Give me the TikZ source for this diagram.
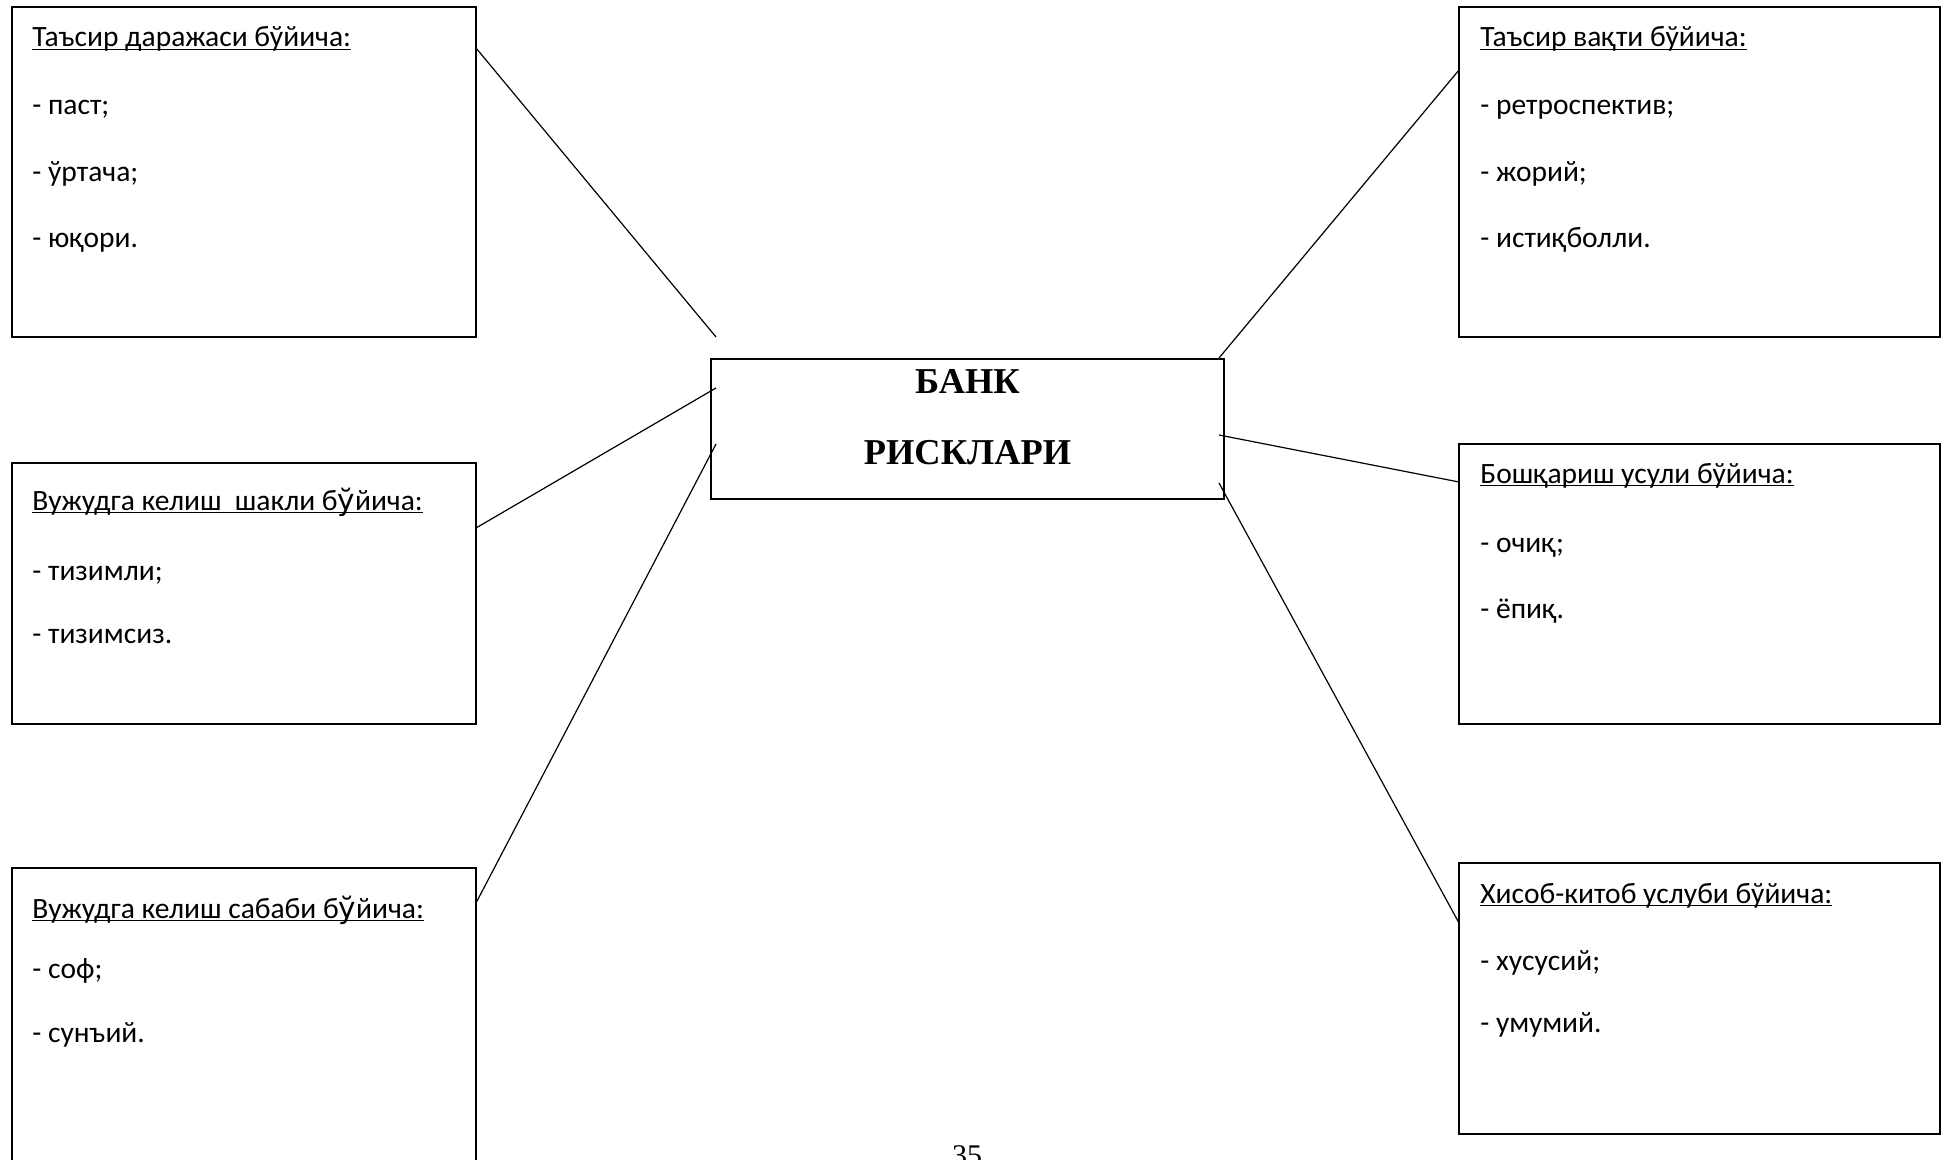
\documentclass[tikz,border=0pt]{standalone}
\usepackage{fontspec}
\setmainfont{Carlito}
\newfontfamily\headfont{Liberation Serif}
\newfontfamily\altglyph{DejaVu Sans}
\usetikzlibrary{calc}
% underline drawn at a fixed depth below the baseline
\newsavebox{\ulnbox}
\newcommand{\uln}[1]{\sbox{\ulnbox}{#1}\rlap{\rule[-1.7pt]{\wd\ulnbox}{0.8pt}}\usebox{\ulnbox}}
\begin{document}
\begin{tikzpicture}[x=0.5pt,y=-0.5pt,
  card/.style={draw, line width=1pt, anchor=north west, inner sep=0pt, outer sep=0pt},
  hub/.style={draw, line width=1.15pt, anchor=north west, inner sep=0pt, outer sep=0pt},
  txt/.style={anchor=base west, inner sep=0pt, font=\fontsize{14.75}{17}\selectfont},
  big/.style={anchor=base, inner sep=0pt, font=\headfont\bfseries\fontsize{18.2}{21}\selectfont},
  link/.style={line width=0.6pt}]
\clip (0,0) rectangle (1948,1160);
\fill[white] (0,0) rectangle (1948,1160);

% category boxes
\node[card, minimum width=232pt, minimum height=165pt] (b1) at (12,7) {};
\node[card, minimum width=232pt, minimum height=130.5pt] (b2) at (12,463) {};
\node[card, minimum width=232pt, minimum height=200pt] (b3) at (12,868) {};
\node[card, minimum width=240.5pt, minimum height=165pt] (b4) at (1459,7) {};
\node[card, minimum width=240.5pt, minimum height=140pt] (b5) at (1459,444) {};
\node[card, minimum width=240.5pt, minimum height=135.5pt] (b6) at (1459,863) {};

% central box
\node[hub, minimum width=256.5pt, minimum height=70pt] (c) at (711,359) {};
\node[big] (c1) at (967.5,393.5) {БАНК};
\node[big] (c2) at (967.5,464) {РИСКЛАРИ};

% texts, left column
\node[txt] (t1) at (32,47) {\uln{Таъсир даражаси бўйича:}};
\node[txt] (t1a) at (32,115) {- паст;};
\node[txt] (t1b) at (32,182) {- ўртача;};
\node[txt] (t1c) at (32,248) {- юқори.};

\node[txt] (t2) at (32,510) {\uln{Вужудга келиш\ \ шакли б{\altglyph ў}йича:}};
\node[txt] (t2a) at (32,580) {- тизимли;};
\node[txt] (t2b) at (32,643) {- тизимсиз.};

\node[txt] (t3) at (32,918) {\uln{Вужудга келиш сабаби б{\altglyph ў}йича:}};
\node[txt] (t3a) at (32,978) {- соф;};
\node[txt] (t3b) at (32,1042) {- сунъий.};

% texts, right column
\node[txt] (t4) at (1480,47) {\uln{Таъсир вақти бўйича:}};
\node[txt] (t4a) at (1480,115) {- ретроспектив;};
\node[txt] (t4b) at (1480,182) {- жорий;};
\node[txt] (t4c) at (1480,248) {- истиқболли.};

\node[txt] (t5) at (1480,483) {\uln{Бошқариш усули бўйича:}};
\node[txt] (t5a) at (1480,552) {- очиқ;};
\node[txt] (t5b) at (1480,618) {- ёпиқ.};

\node[txt] (t6) at (1480,903) {\uln{Хисоб-китоб услуби бўйича:}};
\node[txt] (t6a) at (1480,970) {- хусусий;};
\node[txt] (t6b) at (1480,1032) {- умумий.};

% page number
\node[anchor=base, inner sep=0pt, font=\headfont\fontsize{15}{18}\selectfont] (pg) at (967,1165) {35};

% connector ends near the central box
\coordinate (k1) at ($(c.north west)+(5,-22)$);
\coordinate (k2) at ($(c.north west)+(5,29)$);
\coordinate (k3) at ($(c.north west)+(5,85)$);
\coordinate (k4) at ($(c.north east)+(-5,-1)$);
\coordinate (k5) at ($(c.north east)+(-5,76)$);
\coordinate (k6) at ($(c.north east)+(-5,124)$);

% connectors
\draw[link] ($(b1.north east)+(0,41)$) -- (k1);
\draw[link] ($(b2.north east)+(0,65)$) -- (k2);
\draw[link] ($(b3.north east)+(0,35)$) -- (k3);
\draw[link] (k4) -- ($(b4.north west)+(0,63)$);
\draw[link] (k5) -- ($(b5.north west)+(0,38)$);
\draw[link] (k6) -- ($(b6.north west)+(0,60)$);
\end{tikzpicture}
\end{document}
